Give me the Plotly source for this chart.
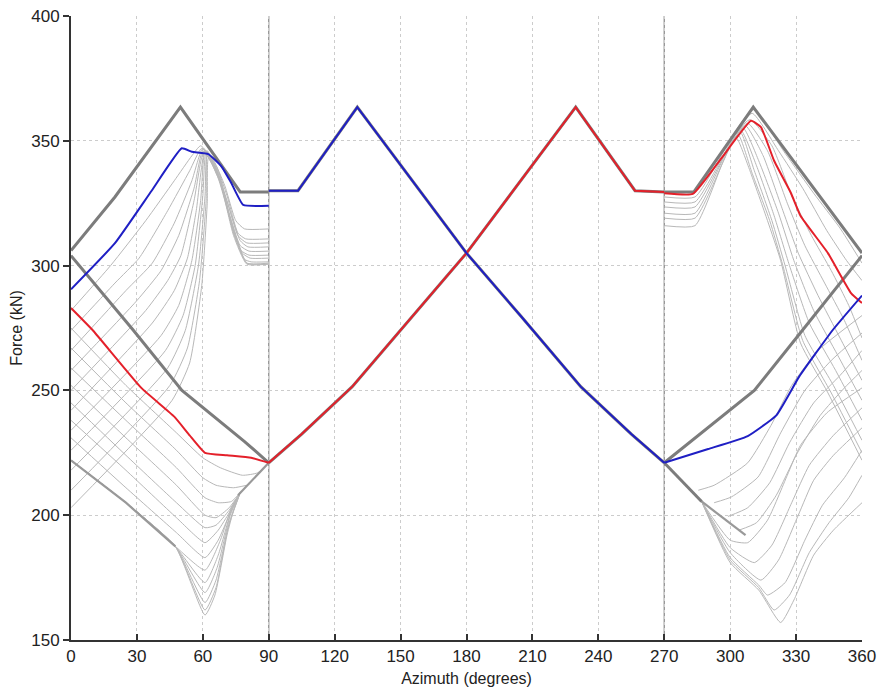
import plotly.graph_objects as go

# ---------------- tick labels ----------------
X_TICKS = [0, 30, 60, 90, 120, 150, 180, 210, 240, 270, 300, 330, 360]
Y_TICKS = [150, 200, 250, 300, 350, 400]
SEGMENT_BOUNDS = [90, 270]

# ---------------- azimuth 0-90 ----------------
L_UPPER_ENV = [(0, 306), (20, 327.5), (49.8, 363.5), (77, 329.5), (90, 329.5)]
L_LOWER_ENV = [(0, 304), (28, 274.5), (50.5, 250), (79, 229.5), (90, 221)]
L_BOTTOM_BUNDLE = [(0, 222), (25, 205), (47.5, 187.5)]
L_JOIN = [(76, 208), (90, 221)]

L_BLUE = [(0, 290.5), (20, 309), (36.7, 330), (50.4, 347), (55, 345.6), (62.5, 344.7),
          (68.6, 339.6), (73, 333), (78.4, 324.3), (90, 324)]
L_RED = [(0, 283), (10, 274), (32, 251), (47, 239.5), (54, 232), (61, 225), (71, 224),
         (82, 223), (90, 221)]

L_RISING = [
    [(0, 282), (18, 300), (34, 318), (47, 334), (55, 344), (59, 348), (65, 342), (70, 332), (75, 318), (79, 314.7), (90, 314.7)],
    [(0, 274), (20, 293), (31, 303), (44, 322), (54, 338), (59.5, 347), (66, 340), (71, 328), (76, 313), (79.5, 310.7), (90, 310.7)],
    [(0, 266), (25, 290), (37, 301), (47, 317), (55, 334), (60, 347), (66, 339), (71, 326), (76, 312), (80, 309.1), (90, 309.1)],
    [(0, 258), (30, 286), (41, 298), (49, 312), (56, 331), (60, 346), (66, 338), (72, 323), (77, 310), (80.5, 307.5), (90, 307.5)],
    [(0, 250), (34, 282), (44, 294), (50, 304), (56, 326), (60.5, 346), (66.5, 337), (72, 321), (77, 308), (81, 305.8), (90, 305.8)],
    [(0, 242), (37, 277), (47, 290), (53, 303), (57, 322), (61, 346), (67, 336), (72.5, 319), (77.5, 306), (81, 304.2), (90, 304.2)],
    [(0, 234), (41, 272), (49, 284), (55, 302), (59, 326), (61, 346), (67, 335), (73, 317), (78, 305), (81.5, 303), (90, 303)],
    [(0, 226), (43, 266), (51, 280), (56.5, 300), (60, 328), (61.5, 346), (67.5, 335), (73.5, 315), (79, 302.5), (82, 301.5), (90, 301.5)],
    [(0, 218), (44, 259), (52, 274), (58, 300), (61, 328), (62, 346), (68, 335), (74, 313), (80, 301), (82, 300.6), (90, 300.6)],
    [(0, 210), (45, 252), (53, 267), (58.5, 294), (61.5, 326), (62, 344), (68, 334), (74, 313), (80, 301), (90, 301)],
    [(0, 203), (46, 246), (54, 261), (59.5, 292), (62, 325), (62.5, 343), (68, 333), (74, 312), (80, 300.6), (90, 300.6)],
]

L_FALLING = [
    [(0, 275), (25, 252), (48, 233), (60, 223), (68, 219), (78, 216), (85, 217), (90, 221)],
    [(0, 267), (25, 245), (48, 226), (60, 215), (66, 212), (74, 211), (80, 212)],
    [(0, 259), (25, 238), (48, 219), (61, 207), (67, 205), (73, 205.5), (78, 210)],
    [(0, 252), (25, 231), (48, 212), (61, 200), (66, 199), (72, 203), (77, 209)],
    [(0, 245), (25, 224), (48, 205), (61, 195), (66, 196), (72, 202), (77, 209)],
    [(0, 238), (25, 218), (48, 199), (61, 189), (67, 194), (72, 201), (77, 209)],
    [(0, 231), (25, 211), (48, 193), (61, 183), (67, 190), (72, 200), (77, 209)],
    [(0, 222), (25, 205), (47.5, 187.5), (61, 178), (68, 190), (73, 203), (77, 209)],
    [(0, 222), (25, 205), (47.5, 187.5), (61, 173), (67, 184), (73, 202), (77, 209)],
    [(0, 222), (25, 205), (47.5, 187.5), (61, 169), (66.5, 179), (72.5, 200), (77, 209)],
    [(0, 222), (25, 205), (47.5, 187.5), (61, 165), (66, 174), (72, 197), (77, 209)],
    [(0, 222), (25, 205), (47.5, 187.5), (61, 162), (66, 171), (71.5, 195), (77, 209)],
    [(0, 222), (25, 205), (47.5, 187.5), (61, 160), (65.5, 168), (71, 192), (74, 202), (77, 209)],
]

# ---------------- azimuth 90-270 ----------------
C_BLUE = [(90, 330), (103.3, 330), (130.3, 363.5), (160, 328.5), (180, 305), (205, 279.5),
          (232, 251.5), (255, 232.5), (270, 221)]
C_RED = [(90, 221), (105, 232.5), (128, 251.5), (155, 279.5), (180, 305), (200, 328.5),
         (229.7, 363.5), (256.7, 330), (270, 329.5)]

# ---------------- azimuth 270-360 ----------------
R_UPPER_ENV = [(270, 329.5), (283.5, 329.5), (310.5, 363.5), (360, 305)]
R_LOWER_ENV = [(270, 221), (311, 250), (331, 272), (360, 304)]
R_DIAG_ENV = [(270, 221), (287, 205.5)]
R_DIAG_TAIL = [(287, 205.5), (307, 192)]

R_BLUE = [(270, 221), (290, 226.5), (308, 231.7), (321, 240), (331.4, 255.5), (346.7, 274.2), (360, 288)]
R_RED = [(270, 329), (283, 328.7), (296, 343), (309.5, 358), (314, 355.5), (320, 342), (327.7, 329),
         (332, 320), (344.5, 305), (355, 289), (360, 285)]

R_FALLING = [
    [(270, 316), (284, 316), (296, 340), (301, 350), (303, 351), (309, 338), (317, 318), (323, 302), (332, 269), (344.5, 249), (360, 222)],
    [(270, 319), (284, 319), (297, 342), (302, 351), (304, 352), (310, 337), (318, 318), (324, 300), (333, 270), (346, 249), (360, 225)],
    [(270, 321), (284, 321), (298, 345), (303, 352), (305, 353), (311, 338), (319, 318), (325, 300), (334, 272), (347, 252), (360, 230)],
    [(270, 323.5), (284, 323.5), (299, 347), (305, 354), (312, 340), (320, 320), (327, 300), (336, 277), (348, 258), (360, 238)],
    [(270, 325.5), (284, 325.5), (300, 349), (306, 355), (313, 342), (322, 321), (329, 302), (338, 282), (349, 264), (360, 246)],
    [(270, 327.5), (284, 327.5), (300, 350), (307, 356), (315, 344), (324, 322), (331, 305), (340, 288), (350, 271), (360, 254)],
    [(300, 350.5), (308, 357), (317, 346), (326, 325), (334, 308), (343, 293), (352, 278), (360, 262)],
    [(300, 350.5), (309, 358.5), (319, 348), (328, 328), (337, 312), (346, 298), (354, 284), (360, 271)],
    [(300, 350.5), (310, 361), (322, 346), (333, 331), (344, 314), (353, 302), (360, 294)],
    [(300, 350.5), (310.5, 362.5), (325, 345), (338, 329), (350, 315), (360, 301)],
]

R_RISING = [
    [(285.5, 210), (292.7, 212), (308, 221), (318.6, 236), (328, 252), (340, 266), (360, 280)],
    [(292.7, 205), (300.5, 207.3), (312.7, 215.3), (323, 233), (334, 250), (346, 262), (360, 273)],
    [(299, 199.5), (308, 203), (318, 213), (327, 229), (338, 245), (350, 256), (360, 266)],
    [(304, 194), (312, 197), (321, 208), (330, 224), (341, 240), (352, 251), (360, 258)],
    [(287, 205.5), (300, 190), (308, 189), (317, 198), (326, 216), (332, 228), (344, 241), (360, 251)],
    [(287, 205.5), (300, 187), (311, 181), (319, 188), (328, 205), (336, 220), (347, 232), (360, 243)],
    [(287, 205.5), (300, 185), (314, 174), (322, 182), (331, 200), (338, 214), (347, 224), (360, 235)],
    [(287, 205.5), (300, 183), (313, 172), (317, 168), (325, 173), (334, 190), (342, 204), (352, 215), (360, 226)],
    [(287, 205.5), (300, 182), (313, 171), (320, 162), (327, 168), (336, 185), (345, 197), (354, 207), (360, 216)],
    [(287, 205.5), (300, 181), (313, 170), (323, 157), (329, 166), (338, 184), (347, 194), (360, 205)],
]


def join(curves):
    xs, ys = [], []
    for c in curves:
        for x, y in c:
            xs.append(x)
            ys.append(y)
        xs.append(None)
        ys.append(None)
    return xs, ys


THIN_COLOR = "#b8b8b8"
MID_COLOR = "#999999"
THICK_COLOR = "#7c7c7c"
BLUE = "#1f1fc4"
RED = "#e4202a"

fig = go.Figure()

tx, ty = join(L_RISING + L_FALLING + R_FALLING + R_RISING)
fig.add_trace(go.Scatter(x=tx, y=ty, mode="lines",
                         line=dict(color=THIN_COLOR, width=1, shape="spline", smoothing=0.5),
                         hoverinfo="skip"))

mx, my = join([L_BOTTOM_BUNDLE, L_JOIN, R_DIAG_TAIL])
fig.add_trace(go.Scatter(x=mx, y=my, mode="lines", line=dict(color=MID_COLOR, width=2.2),
                         hoverinfo="skip"))

kx, ky = join([L_UPPER_ENV, L_LOWER_ENV, C_BLUE, C_RED,
               R_UPPER_ENV, R_LOWER_ENV, R_DIAG_ENV])
fig.add_trace(go.Scatter(x=kx, y=ky, mode="lines", line=dict(color=THICK_COLOR, width=3),
                         hoverinfo="skip"))

# central segment: straight segments so they sit exactly on the grey envelope
cx, cy = join([C_RED])
fig.add_trace(go.Scatter(x=cx, y=cy, mode="lines", line=dict(color=RED, width=2)))
cbx, cby = join([C_BLUE])
fig.add_trace(go.Scatter(x=cbx, y=cby, mode="lines", line=dict(color=BLUE, width=2)))

# outer segments: smoothed
rx, ry = join([L_RED, R_RED])
fig.add_trace(go.Scatter(x=rx, y=ry, mode="lines",
                         line=dict(color=RED, width=2, shape="spline", smoothing=0.4)))
bx, by = join([L_BLUE, R_BLUE])
fig.add_trace(go.Scatter(x=bx, y=by, mode="lines",
                         line=dict(color=BLUE, width=2, shape="spline", smoothing=0.4)))

for xb in SEGMENT_BOUNDS:
    fig.add_shape(type="line", xref="x", yref="paper", x0=xb, x1=xb, y0=0, y1=1,
                  line=dict(color="#8e8e8e", width=1.3), layer="below")

axis_common = dict(showline=True, linecolor="#333333", linewidth=2, mirror=False,
                   showgrid=True, gridcolor="#cccccc", gridwidth=1, griddash="dot",
                   zeroline=False, tickcolor="#333333", tickwidth=1.5, ticklen=6,
                   automargin=False, tickfont=dict(size=17, color="#222222"))

fig.update_layout(
    template="none",
    width=878, height=687,
    margin=dict(l=71, r=16, t=16, b=47),
    paper_bgcolor="white", plot_bgcolor="white",
    showlegend=False,
    font=dict(family="Liberation Sans, Arial, sans-serif", size=16, color="#222222"),
    xaxis=dict(range=[0, 360], tickvals=X_TICKS, ticks="inside",
               title=dict(text="Azimuth (degrees)", standoff=8, font=dict(size=16)),
               **axis_common),
    yaxis=dict(range=[150, 400], tickvals=Y_TICKS, ticks="outside",
               title=dict(text="Force (kN)", standoff=5, font=dict(size=16)),
               **axis_common),
)

fig.write_html("out.html")
